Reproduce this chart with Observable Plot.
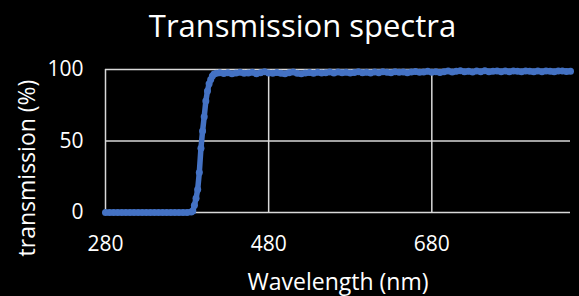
<!DOCTYPE html>
<html>
<head>
<meta charset="utf-8">
<script src="https://cdn.jsdelivr.net/npm/d3@7"></script>
<script src="https://cdn.jsdelivr.net/npm/@observablehq/plot@0.6"></script>
<style>
  html, body { margin: 0; padding: 0; background: #000; }
  #chart svg { display: block; }
</style>
</head>
<body>
<div id="chart"></div>
<script>
const title = "Transmission spectra";
const xLabel = "Wavelength (nm)";
const yLabel = "transmission (%)";
const xTicks = [280, 480, 680];
const yTicks = [0, 50, 100];

const wavelength = [
  280,285,290,295,300,305,310,315,320,325,330,335,340,345,350,355,360,365,370,375,380,385,
  387,389,391,393,395,397,399,401,403,405,407,409,411,413,416,420,
  425,430,435,440,445,450,455,460,465,470,475,480,485,490,495,500,505,510,515,520,525,530,
  535,540,545,550,555,560,565,570,575,580,585,590,595,600,605,610,615,620,625,630,635,640,
  645,650,655,660,665,670,675,680,685,690,695,700,705,710,715,720,725,730,735,740,745,750,
  755,760,765,770,775,780,785,790,795,800,805,810,815,820,825,830,835,840,845,850
];
const transmission = [
  0,0,0,0,0,0,0,0,0,0,0,0,0,0,0,0,0,0,0,0,0,0.3,
  1,5,10,16,28,45,57,67,78,85,90,93,95.5,96.8,97.4,97.8,
  97.2,97.7,97.0,97.5,98.0,97.3,97.6,98.1,97.1,97.7,98.4,97.6,97.3,97.9,97.4,97.1,97.7,98.3,97.4,97.0,97.6,97.9,
  97.4,98.0,97.5,97.8,98.2,97.6,98.2,97.7,98.1,97.5,97.9,98.4,97.7,98.1,97.6,98.2,97.8,98.5,98.0,97.7,98.4,98.0,
  98.3,97.8,98.2,98.6,98.0,98.3,98.7,98.0,98.4,97.9,98.5,98.9,98.2,98.7,99.1,98.4,98.8,98.3,98.9,98.5,99.1,98.4,
  98.8,99.0,98.5,98.9,98.4,99.0,98.7,98.5,99.0,98.7,98.4,98.9,98.5,99.0,98.7,98.4,98.9,99.0,98.6,98.8
];

const data = wavelength.map((w, i) => ({w, t: transmission[i]}));
const blue = "#4472C4";
const grid = "#d9d9d9";
const font = "'Open Sans', sans-serif";

const chart = Plot.plot({
  width: 579,
  height: 296,
  marginLeft: 105,
  marginRight: 9,
  marginTop: 69,
  marginBottom: 84,
  style: {background: "#000", color: "#fff", fontFamily: font, overflow: "visible"},
  x: {domain: [280, 850]},
  y: {domain: [0, 100]},
  marks: [
    Plot.ruleX(xTicks, {stroke: grid, strokeWidth: 1.5}),
    Plot.ruleY(yTicks, {stroke: grid, strokeWidth: 1.5}),
    Plot.axisX({ticks: xTicks, tickSize: 0, tickPadding: 24, fontSize: 21, label: null, fill: "#fff"}),
    Plot.axisY({ticks: yTicks, tickSize: 0, tickPadding: 22, fontSize: 21, label: null, fill: "#fff"}),
    Plot.line(data, {x: "w", y: "t", stroke: blue, strokeWidth: 5.5, strokeLinejoin: "round", strokeLinecap: "round"}),
    Plot.dot(data, {x: "w", y: "t", r: 3.5, fill: blue, stroke: "none"}),
    Plot.text([title], {frameAnchor: "top", textAnchor: "middle", lineAnchor: "middle", dx: -35.5, dy: -42, fontSize: 31, fill: "#fff", text: d => d}),
    Plot.text([xLabel], {frameAnchor: "bottom", textAnchor: "middle", lineAnchor: "middle", dy: 70.6, fontSize: 23, fill: "#fff", text: d => d}),
    Plot.text([yLabel], {frameAnchor: "left", textAnchor: "middle", lineAnchor: "middle", dx: -77.4, dy: 27, rotate: -90, fontSize: 23, fill: "#fff", text: d => d})
  ]
});
document.getElementById("chart").appendChild(chart);
</script>
</body>
</html>
